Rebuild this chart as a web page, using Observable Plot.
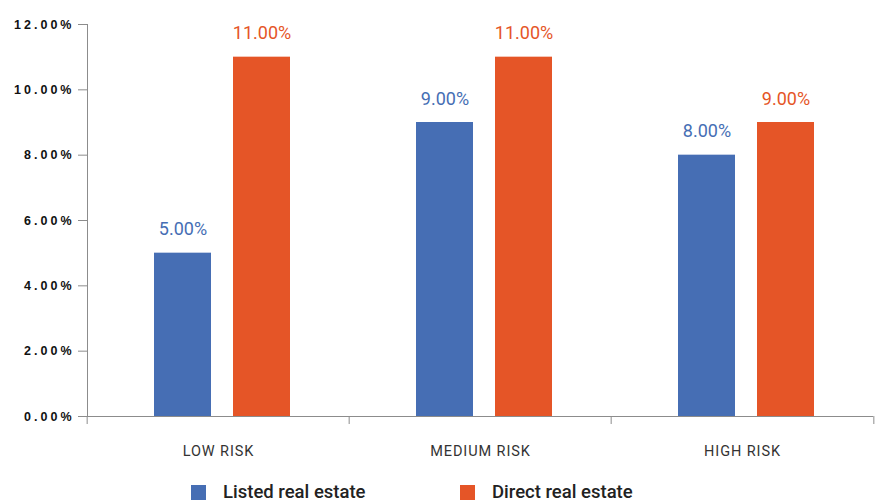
<!DOCTYPE html>
<html>
<head>
<meta charset="utf-8">
<script src="https://cdn.jsdelivr.net/npm/d3@7"></script>
<script src="https://cdn.jsdelivr.net/npm/@observablehq/plot@0.6"></script>
<style>
  html, body { margin: 0; padding: 0; background: #fff; }
  #chart { width: 875px; }
  .legend { position: relative; height: 33px; font-family: Roboto, "Liberation Sans", sans-serif; font-size: 18.5px; line-height: 1; font-weight: 500; color: #222; }
  .legend .item { position: absolute; top: 13px; display: flex; align-items: center; }
  .legend .swatch { width: 15px; height: 15px; margin-right: 17px; }
</style>
</head>
<body>
<div id="chart"></div>
<script>
// Risk categories, series and their returns (in %)
const categories = ["LOW RISK", "MEDIUM RISK", "HIGH RISK"];
const seriesNames = ["Listed real estate", "Direct real estate"];
const listed = [5, 9, 8];
const direct = [11, 11, 9];
const yTicks = [0, 2, 4, 6, 8, 10, 12];
const colors = ["#466eb4", "#e55527"];

const rows = categories.flatMap((c, i) => [
  {category: c, series: seriesNames[0], value: listed[i]},
  {category: c, series: seriesNames[1], value: direct[i]}
]);

const width = 875, height = 470;
const marginLeft = 86, marginRight = 1, marginTop = 24, marginBottom = 54;
const bandW = (width - marginLeft - marginRight) / categories.length;
const axisColor = "#8c8c8c";
const fmt = (v) => v.toFixed(2) + "%";

const plot = Plot.plot({
  width, height, marginLeft, marginRight, marginTop, marginBottom,
  style: {background: "#fff"},
  fx: {domain: categories, padding: 0, label: null, axis: null},
  x: {domain: seriesNames, paddingInner: 0.275, paddingOuter: 0.78, align: 0.53, axis: null},
  y: {domain: [0, 12], axis: null},
  color: {domain: seriesNames, range: colors},
  marks: [
    // y axis: ticks with labels
    Plot.axisY({
      ticks: yTicks, tickSize: 9, tickPadding: 4, stroke: axisColor,
      tickFormat: fmt, label: null,
      fontSize: 12.5, fontWeight: "bold", fill: "#111",
      fontFamily: "Liberation Sans, Arial, sans-serif"
    }),
    // y axis line
    Plot.frame({anchor: "left", stroke: axisColor, fx: [categories[0]]}),
    // x axis line
    Plot.ruleY([0], {stroke: axisColor}),
    // category boundary ticks
    Plot.axisFx({anchor: "bottom", tickSize: 8, dx: -bandW / 2, stroke: axisColor, tickFormat: () => "", label: null}),
    Plot.axisFx({anchor: "bottom", ticks: [categories[categories.length - 1]], tickSize: 8, dx: bandW / 2, stroke: axisColor, tickFormat: () => "", label: null}),
    // category labels
    Plot.axisFx({anchor: "bottom", tickSize: 0, tickPadding: 29, label: null,
      fontSize: 14.5, fill: "#333", fontFamily: "Roboto, sans-serif"}),
    Plot.barY(rows, {fx: "category", x: "series", y: "value", fill: "series"}),
    Plot.text(rows, {
      fx: "category", x: "series", y: "value", text: (d) => fmt(d.value),
      fill: "series", lineAnchor: "bottom", dy: -18,
      fontSize: 18, fontFamily: "Roboto, sans-serif"
    })
  ]
});

const root = document.getElementById("chart");
root.appendChild(plot);
plot.querySelectorAll('g[aria-label="y-axis tick label"]').forEach(g => g.setAttribute("letter-spacing", "3px"));
plot.querySelectorAll('g[aria-label="fx-axis tick label"]').forEach(g => g.setAttribute("letter-spacing", "0.9px"));

// legend
const legend = document.createElement("div");
legend.className = "legend";
const legendX = [191, 460];
seriesNames.forEach((name, i) => {
  const item = document.createElement("div");
  item.className = "item";
  item.style.left = legendX[i] + "px";
  const sw = document.createElement("div");
  sw.className = "swatch";
  sw.style.background = colors[i];
  const label = document.createElement("span");
  label.textContent = name;
  item.appendChild(sw);
  item.appendChild(label);
  legend.appendChild(item);
});
root.appendChild(legend);
</script>
</body>
</html>
